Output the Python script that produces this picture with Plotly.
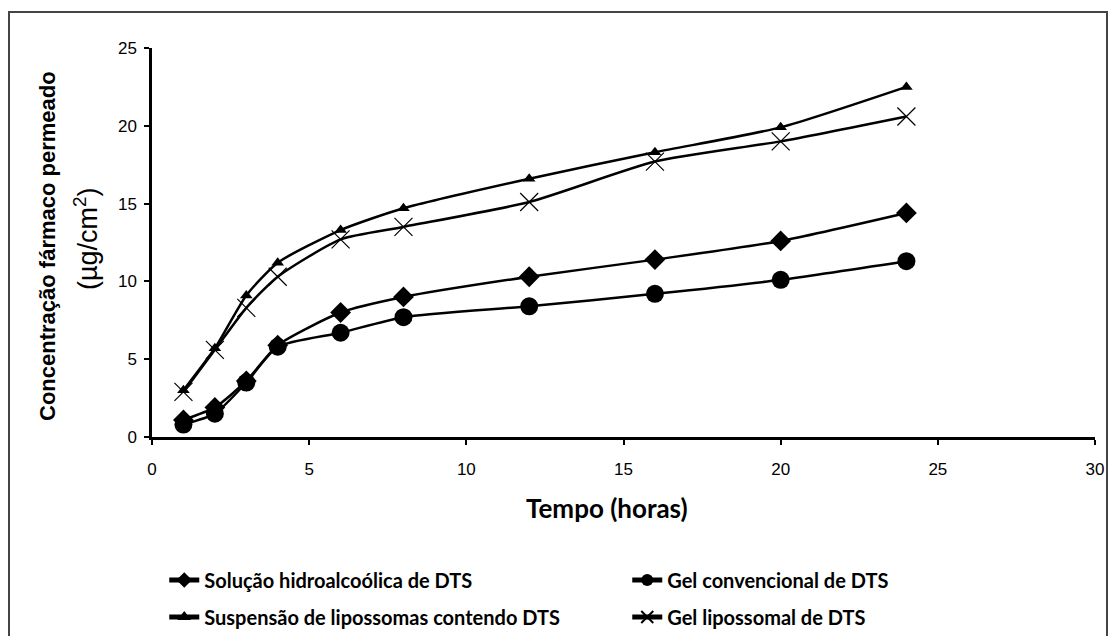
import plotly.graph_objects as go

tempo = [1, 2, 3, 4, 6, 8, 12, 16, 20, 24]
solucao = [1.1, 1.9, 3.6, 5.9, 8.0, 9.0, 10.3, 11.4, 12.6, 14.4]
gel_conv = [0.8, 1.5, 3.5, 5.8, 6.7, 7.7, 8.4, 9.2, 10.1, 11.3]
suspensao = [3.0, 5.7, 9.1, 11.2, 13.3, 14.7, 16.6, 18.3, 19.9, 22.5]
gel_lipo = [2.9, 5.6, 8.3, 10.3, 12.7, 13.5, 15.1, 17.7, 19.0, 20.6]

names = ["Solução hidroalcoólica de DTS", "Gel convencional de DTS",
         "Suspensão de lipossomas contendo DTS", "Gel lipossomal de DTS"]
xticks = [0, 5, 10, 15, 20, 25, 30]
yticks = [0, 5, 10, 15, 20, 25]

LEG_FONT = "Lato, Liberation Sans, sans-serif"

fig = go.Figure()
series = [solucao, gel_conv, suspensao, gel_lipo]
markers = [
    dict(symbol="diamond", size=16, color="black"),
    dict(symbol="circle", size=18, color="black"),
    dict(symbol="triangle-up", size=11, color="black"),
    dict(symbol="x-thin", size=18, color="black", line=dict(color="black", width=1.2)),
]
legends = ["legend", "legend", "legend2", "legend2"]
for name, ys, mk, lg in zip(names, series, markers, legends):
    fig.add_trace(go.Scatter(
        x=tempo, y=ys, name=name, mode="lines+markers", legend=lg,
        line=dict(color="black", width=2.5, shape="spline", smoothing=0.6),
        marker=mk,
    ))

leg_common = dict(orientation="h", xanchor="left", yanchor="middle",
                  entrywidth=418, entrywidthmode="pixels",
                  font=dict(family=LEG_FONT, size=20, color="black", weight="bold"),
                  itemsizing="constant", traceorder="normal", bgcolor="rgba(0,0,0,0)")

fig.update_layout(
    width=1110, height=636,
    margin=dict(l=152, r=15, t=48, b=199, autoexpand=False),
    plot_bgcolor="white", paper_bgcolor="white",
    showlegend=True,
    legend=dict(x=0.013, y=(437 - 580) / 389, **leg_common),
    legend2=dict(x=0.013, y=(437 - 617) / 389, **leg_common),
    font=dict(family="Liberation Sans, Arial, sans-serif", color="black"),
)
fig.update_xaxes(range=[0, 30], tickvals=xticks, ticktext=[str(v) for v in xticks],
                 showline=True, linecolor="black", linewidth=2.5, ticks="outside",
                 tickwidth=2, ticklen=5, tickcolor="black", showgrid=False, zeroline=False,
                 ticklabelstandoff=10, automargin=False,
                 tickfont=dict(size=17))
fig.update_yaxes(range=[0, 25], tickvals=yticks, ticktext=[str(v) for v in yticks],
                 showline=True, linecolor="black", linewidth=2.5, ticks="outside",
                 tickwidth=2, ticklen=5, tickcolor="black", showgrid=False, zeroline=False,
                 ticklabelstandoff=4, automargin=False,
                 tickfont=dict(size=17))
fig.add_annotation(text="Tempo (horas)", xref="paper", yref="paper",
                   x=(607 - 152) / 943, y=(437 - 508) / 389,
                   xanchor="center", yanchor="middle", showarrow=False,
                   font=dict(size=26, family=LEG_FONT, weight="bold"))
fig.add_annotation(text="<b>Concentração fármaco permeado</b>", textangle=-90,
                   xref="paper", yref="paper", x=(48 - 152) / 943, y=(437 - 246) / 389,
                   xanchor="center", yanchor="middle",
                   showarrow=False, font=dict(size=22))
fig.add_annotation(text="(µg/cm<sup>2</sup>)", textangle=-90,
                   xref="paper", yref="paper", x=(86 - 152) / 943, y=(437 - 239) / 389,
                   xanchor="center", yanchor="middle",
                   showarrow=False, font=dict(size=27))
fig.add_shape(type="rect", xref="paper", yref="paper",
              x0=(9 - 152) / 943, x1=(1107 - 152) / 943,
              y0=(437 - 660) / 389, y1=(437 - 12) / 389,
              line=dict(color="#444", width=2), layer="below")

fig.write_html("out.html")
